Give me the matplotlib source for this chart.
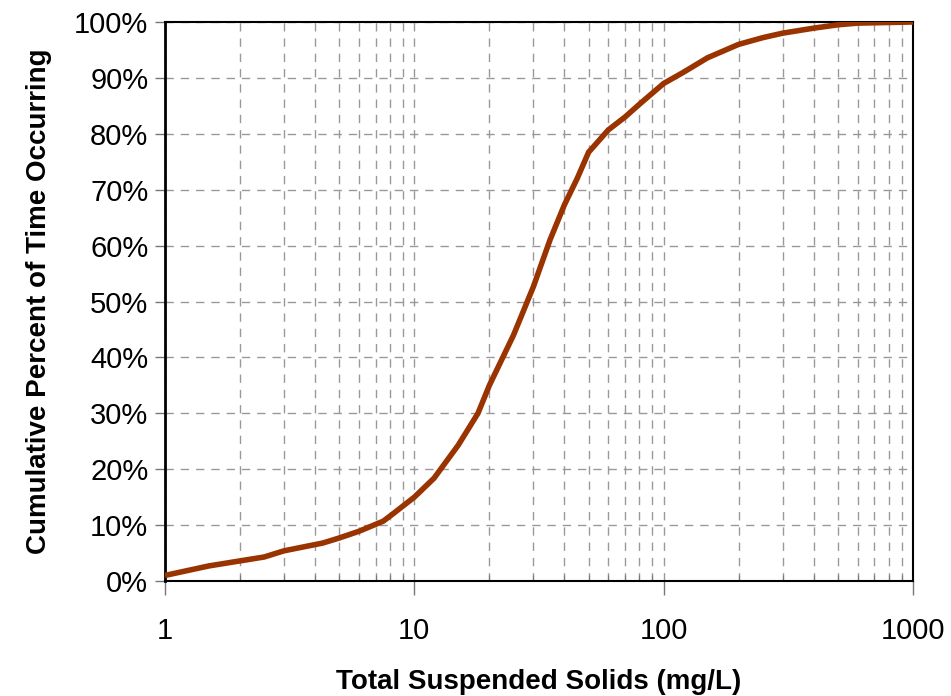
import matplotlib
matplotlib.use("Agg")
import matplotlib.pyplot as plt
from matplotlib.ticker import FixedLocator, FuncFormatter, LogLocator, NullFormatter

# cumulative distribution
tss = [1, 1.5, 2, 2.5, 3, 4.3, 5, 6, 7.5, 8.2, 10, 12, 15, 18, 20, 25, 30, 35,
       40, 45, 50, 60, 70, 80, 100, 120, 150, 200, 250, 300, 400, 500, 600, 1000]
pct = [1.0, 2.7, 3.6, 4.3, 5.4, 6.8, 7.7, 8.9, 10.7, 12.0, 15.0, 18.4, 24.3,
       30.0, 35.0, 44.0, 52.6, 61.0, 67.3, 72.0, 76.7, 80.7, 83.0, 85.3, 89.0,
       91.0, 93.6, 96.0, 97.2, 98.0, 98.9, 99.5, 99.8, 100.0]
yticks = list(range(0, 101, 10))
xticks = [1, 10, 100, 1000]

plt.rcParams['font.family'] = ['Liberation Sans', 'DejaVu Sans']

fig = plt.figure(figsize=(9.51, 6.96), dpi=100)
ax = fig.add_axes([0.1735, 0.1652, 0.7865, 0.8032])

ax.plot(tss, pct, color='#993300', lw=4, solid_capstyle='butt', zorder=3)

ax.set_xscale('log')
ax.set_xlim(1, 1000)
ax.set_ylim(0, 100)

ax.xaxis.set_major_locator(FixedLocator(xticks))
ax.xaxis.set_major_formatter(FuncFormatter(lambda v, p: f"{v:g}"))
ax.xaxis.set_minor_locator(LogLocator(base=10, subs=range(2, 10)))
ax.xaxis.set_minor_formatter(NullFormatter())
ax.set_yticks(yticks)
ax.set_yticklabels([f"{v}%" for v in yticks])

gkw = dict(color='#999999', linestyle=(0, (6, 5)), linewidth=1)
ax.grid(True, which='major', axis='both', **gkw)
ax.grid(True, which='minor', axis='x', **gkw)
ax.set_axisbelow(True)

for s in ax.spines.values():
    s.set_linewidth(1.5)
    s.set_color('black')
ax.spines['left'].set_linewidth(2)

ax.tick_params(axis='y', which='major', direction='out', length=7, width=1,
               color='#777777', labelsize=21, pad=5)
ax.tick_params(axis='x', which='major', direction='out', length=10, width=1,
               color='#777777', labelsize=21, pad=16)
ax.tick_params(axis='x', which='minor', direction='in', length=4, width=0.8,
               color='#777777')

ax.set_xlabel('Total Suspended Solids (mg/L)', fontsize=20, fontweight='bold',
              labelpad=17)
ax.set_ylabel('Cumulative Percent of Time Occurring', fontsize=20,
              fontweight='bold', labelpad=16)

fig.savefig('out.png', dpi=100)
